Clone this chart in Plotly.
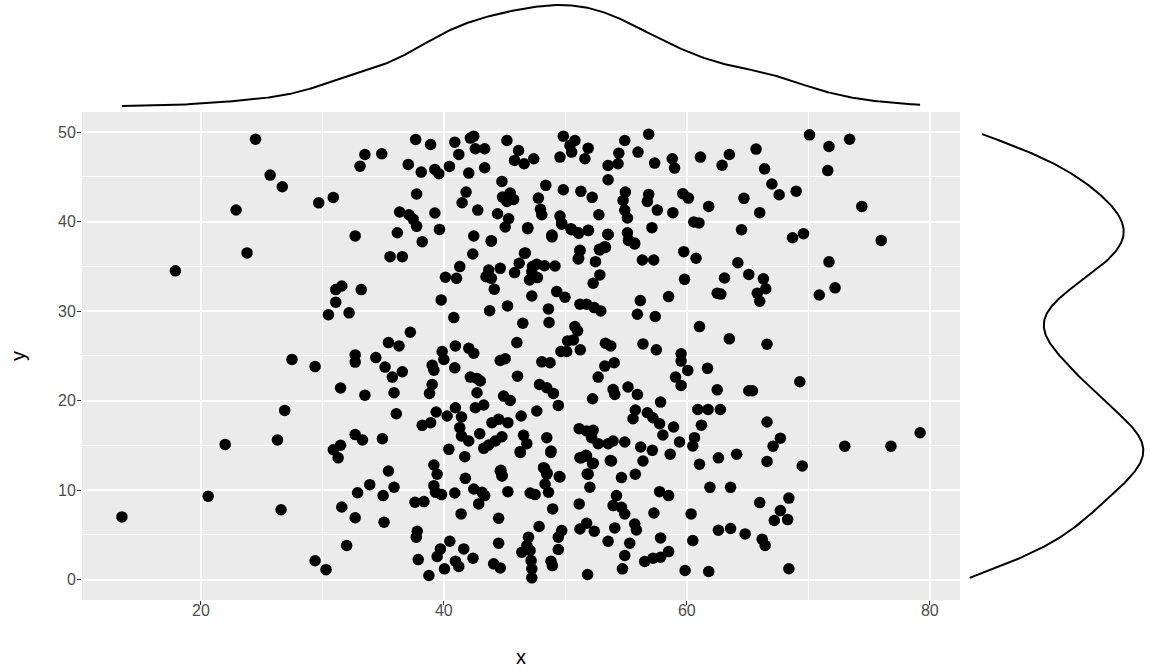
import numpy as np
import plotly.graph_objects as go

# ---- data, grouped by region of the panel ----
# left (x < 34.7)
xa = [13.5,17.9,20.6,22.0,22.9,23.8,24.5,25.7,26.7,26.3,26.6,26.9,27.5,29.4,29.7,29.4,30.3,30.5,30.9,30.9,
      31.1,31.3,31.1,31.6,31.5,31.5,31.6,32.0,32.2,32.7,32.7,32.7,32.7,32.7,32.9,33.1,33.2,33.5,33.3,33.5,33.9,34.4]
ya = [7.0,34.5,9.3,15.1,41.3,36.5,49.2,45.2,43.9,15.6,7.8,18.9,24.6,23.8,42.1,2.1,1.1,29.6,42.7,14.5,
      32.4,13.6,31.0,32.8,21.4,15.0,8.1,3.8,29.8,38.4,25.1,24.3,16.2,6.9,9.7,46.2,32.4,47.5,15.6,20.6,10.6,24.8]
# centre, y > 38.4
xb = [37.68,38.91,40.90,41.23,42.18,42.46,42.59,43.36,45.19,46.15,45.82,46.61,47.40,49.83,50.79,50.38,50.52,49.56,51.88,51.61,
      54.89,56.86,54.40,54.34,53.52,55.98,57.35,58.80,58.99,61.12,34.89,37.07,38.14,39.26,39.59,40.46,42.05,43.36,
      44.78,53.52,48.39,49.83,51.28,52.21,37.76,41.83,41.50,44.83,45.46,45.74,45.19,47.78,47.95,48.06,
      54.94,54.75,56.86,56.75,57.57,59.67,60.13,36.36,37.13,37.48,37.76,39.26,42.79,44.42,45.33,45.05,46.91,49.56,49.70,
      52.76,54.89,55.11,58.85,60.57,36.17,39.64,42.46,48.88,50.46,51.06,51.88,53.52,55.11,57.13]
yb = [49.18,48.62,48.88,47.51,49.33,49.55,48.14,48.14,49.07,47.95,46.84,46.46,47.02,49.55,49.07,48.51,47.77,47.21,48.21,47.02,
      49.07,49.77,47.65,46.46,46.28,47.77,46.54,47.02,45.98,47.21,47.58,46.39,45.53,45.83,45.35,46.17,45.42,46.02,
      44.49,44.68,44.05,43.56,43.38,42.71,43.08,43.30,42.11,42.74,43.19,42.48,42.26,42.63,41.37,40.77,
      43.30,42.37,43.04,42.26,41.29,43.12,42.63,41.07,40.77,40.25,39.47,40.96,41.29,40.88,40.33,39.40,39.32,40.62,39.84,
      40.77,41.26,40.40,41.00,39.95,38.76,39.13,38.39,38.39,39.21,38.76,39.02,38.54,38.76,39.32]
# centre, 25 < y < 38.4
xc = [38.22,43.91,55.22,55.71,35.57,36.58,42.38,41.31,40.13,41.04,43.69,43.47,43.91,44.64,44.15,46.64,46.20,45.82,47.29,47.65,
      48.28,49.15,47.24,47.05,47.70,51.20,51.06,52.84,53.25,52.48,52.84,52.29,56.34,57.27,59.75,60.76,59.81,39.78,47.24,49.29,
      49.97,51.20,51.75,52.38,52.92,56.17,58.50,55.93,57.40,40.82,43.77,45.24,48.61,48.66,46.50,50.79,51.01,50.19,50.66,37.24,
      35.44,36.31,40.95,42.05,42.46,46.01,49.64,50.11,51.23,53.30,53.74,56.39,57.49,59.53,61.04,39.86]
yc = [37.76,37.87,37.94,37.50,36.08,36.08,36.38,34.97,33.78,33.66,34.59,33.85,33.66,34.78,32.44,36.45,35.34,34.30,34.97,35.23,
      35.08,35.04,34.41,33.48,33.74,36.75,35.82,36.83,37.20,35.52,34.04,33.11,35.71,35.71,36.64,35.90,33.55,31.25,31.69,32.18,
      31.54,30.76,30.76,30.39,30.02,31.17,31.62,29.65,29.39,29.27,30.05,30.58,30.24,28.72,28.64,28.27,27.79,26.67,26.78,27.64,
      26.48,26.11,26.11,25.85,25.29,26.48,25.48,25.48,25.67,26.41,26.11,26.33,25.67,25.22,28.27,25.48]
# centre, 11 < y < 25
xd = [35.16,35.76,36.58,39.04,39.18,40.00,40.90,44.64,45.05,48.06,48.74,52.70,53.25,54.02,59.53,60.08,59.07,59.53,35.90,39.04,
      38.82,42.18,42.73,43.00,46.06,42.73,47.87,48.47,49.02,49.42,44.92,45.46,42.59,43.28,40.95,41.45,40.27,39.37,38.91,38.22,
      36.09,47.65,46.36,44.51,43.96,45.27,41.31,41.45,42.05,42.95,44.78,44.23,43.69,43.28,46.56,46.83,46.28,48.47,48.82,34.94,
      52.24,53.93,54.07,55.16,55.93,57.84,55.76,55.57,56.75,57.21,57.76,58.91,58.03,60.90,51.14,51.75,52.29,52.16,52.70,53.52,
      53.93,54.89,56.20,57.16,59.40,60.49,60.63,53.80,56.39,58.63,51.20,51.75,52.24,40.41,41.72,39.18,39.45,35.44,44.64,44.78,
      48.20,48.47,49.56,41.77,51.88,54.62,55.76,61.04]
yd = [23.74,22.62,23.22,23.96,23.40,24.59,23.66,24.48,24.67,24.33,24.22,22.62,23.85,24.22,24.41,23.37,22.62,21.69,20.87,21.80,
      20.80,22.62,22.47,22.18,22.73,20.87,21.80,21.43,20.80,19.46,20.50,20.02,19.20,19.50,19.20,18.16,18.27,18.72,17.53,17.23,
      18.53,18.83,18.27,17.90,17.53,17.53,16.97,16.04,15.48,16.30,15.96,15.48,15.03,14.66,16.11,15.18,14.29,15.85,14.36,15.74,
      20.20,21.25,20.69,21.51,20.69,19.83,18.94,17.97,18.64,18.08,17.41,17.04,16.15,19.01,16.86,16.60,16.67,15.85,15.18,15.18,
      15.48,15.37,14.81,14.44,15.37,14.92,15.85,13.25,13.25,14.01,13.62,13.81,12.95,14.55,13.73,12.80,11.76,12.13,12.13,11.57,
      12.50,11.76,11.46,11.31,11.76,11.39,11.76,12.88]
# centre, y < 11
xe = [35.90,35.00,39.18,39.31,39.81,40.90,42.46,43.14,43.36,42.87,45.27,47.10,47.51,48.33,48.61,37.62,38.36,51.14,52.02,54.21,
      53.93,54.62,54.89,57.76,58.50,57.29,60.35,35.08,41.42,44.51,48.96,47.84,37.81,37.73,40.49,39.72,39.45,41.64,40.95,41.23,
      42.40,40.05,38.77,37.89,44.51,46.97,46.83,46.42,47.10,47.18,47.24,47.24,44.10,44.64,49.70,49.42,49.42,48.82,48.93,51.20,
      51.75,52.38,53.52,54.07,55.71,55.85,55.30,54.89,54.70,57.84,56.53,57.21,57.84,58.50,59.86,60.49,51.83]
ye = [10.31,9.38,10.49,9.75,9.49,9.67,10.12,9.75,9.38,8.45,9.82,9.67,9.49,10.68,9.75,8.63,8.71,8.45,10.31,9.38,
      8.26,8.07,7.33,9.82,9.38,7.44,7.33,6.40,7.33,6.85,7.89,5.92,5.40,4.73,4.28,3.42,2.57,3.42,2.05,1.45,
      2.38,1.19,0.45,2.23,4.06,4.73,3.80,3.05,3.24,2.12,1.19,0.19,1.75,1.30,5.47,4.73,3.35,2.05,1.56,5.65,
      6.29,5.40,4.28,5.77,6.21,5.54,4.06,2.68,1.19,4.65,2.01,2.38,2.49,3.12,1.01,4.35,0.56]
# right (x > 61)
xf = [61.7,61.8,61.8,61.9,61.75,62.76,62.5,62.5,62.8,62.6,62.6,62.9,63.1,63.5,63.6,63.5,64.1,63.6,64.2,64.5,
      64.8,65.1,64.7,65.1,65.4,66.0,65.7,66.0,66.2,66.45,66.4,66.3,66.5,65.8,66.0,66.6,66.6,66.6,67.0,67.7,
      67.1,67.2,67.7,68.3,68.4,68.4,67.6,69.0,68.7,69.6,69.3,69.5,70.1,70.9,71.6,71.7,71.7,72.2,73.0,73.4,
      74.4,76.0,76.8,79.2,61.2,61.0]
yf = [23.6,41.7,0.9,10.3,19.0,19.0,21.2,32.0,31.9,13.6,5.5,46.3,33.7,47.5,10.3,26.9,14.0,5.7,35.4,39.1,
      5.1,34.1,42.6,21.1,21.1,41.0,48.1,8.6,4.5,3.8,45.9,33.6,32.5,32.0,31.1,13.2,17.6,26.3,44.2,15.8,
      14.9,6.6,7.7,6.7,9.1,1.2,43.0,43.4,38.2,38.65,22.1,12.7,49.7,31.8,45.7,48.4,35.5,32.6,14.9,49.2,
      41.7,37.9,14.9,16.4,17.25,39.85]
# points hidden under overlapping dots in the dense centre (estimated from the marginal densities)
xg = [48.3,48.5,49.5,51.8,51.3,51.7,52.3,53.7,48.8,46.3,44.7,44.8,
      48.9,50.5,51.1,51.9,53.5,49.7,46.9,46.7,51.2,52.8,53.3,51.1,
      55.2,55.7,43.9,48.9]
yg = [12.4,11.9,11.5,11.8,13.6,13.9,13.0,13.3,14.2,14.2,12.2,11.6,
      38.5,39.1,38.7,39.0,38.6,39.7,39.2,36.5,36.8,36.9,37.1,35.9,
      37.9,37.6,37.8,38.3]

x_ticks = [20, 40, 60, 80]
y_ticks = [0, 10, 20, 30, 40, 50]

x_vals = xa + xb + xc + xd + xe + xf + xg
y_vals = ya + yb + yc + yd + ye + yf + yg
x = np.array(x_vals)
y = np.array(y_vals)


def kde(v, n=512):
    sd = np.std(v, ddof=1)
    q75, q25 = np.percentile(v, [75, 25])
    bw = 0.9 * min(sd, (q75 - q25) / 1.34) * len(v) ** (-0.2)
    g = np.linspace(v.min(), v.max(), n)
    d = np.exp(-0.5 * ((g[:, None] - v[None, :]) / bw) ** 2).sum(axis=1) / (len(v) * bw * np.sqrt(2 * np.pi))
    return g, d


def expand(lo, hi, f=0.05):
    r = hi - lo
    return [lo - f * r, hi + f * r]


gx, dx = kde(x)
gy, dy = kde(y)

W, H = 1152, 672
L, R = 82, 960
T, B = 112, 600

fig = go.Figure()
fig.add_trace(go.Scatter(x=x_vals, y=y_vals, mode="markers",
                         marker=dict(color="black", size=11.5, line=dict(width=0)),
                         xaxis="x", yaxis="y", showlegend=False, hoverinfo="skip"))
fig.add_trace(go.Scatter(x=gx, y=dx, mode="lines", line=dict(color="black", width=2),
                         xaxis="x2", yaxis="y2", showlegend=False, hoverinfo="skip"))
fig.add_trace(go.Scatter(x=dy, y=gy, mode="lines", line=dict(color="black", width=2),
                         xaxis="x3", yaxis="y3", showlegend=False, hoverinfo="skip"))

xr = expand(x.min(), x.max())
yr = expand(y.min(), y.max())
tick_font = dict(family="Liberation Sans, Arial, sans-serif", size=16, color="#4D4D4D")
title_font = dict(family="Liberation Sans, Arial, sans-serif", size=20, color="black")

fig.update_layout(
    width=W, height=H, autosize=False,
    margin=dict(l=0, r=0, t=0, b=0, pad=0),
    paper_bgcolor="white", plot_bgcolor="white",
    xaxis=dict(domain=[L / W, R / W], range=xr, tickvals=x_ticks, ticktext=[str(v) for v in x_ticks],
               automargin=False, showgrid=True, gridcolor="white", gridwidth=2.2,
               minor=dict(dtick=10, tick0=0, showgrid=True, gridcolor="white", gridwidth=1.1, ticklen=0),
               ticks="outside", ticklen=4, tickwidth=1.1, tickcolor="#333333", ticklabelstandoff=-8,
               tickfont=tick_font, zeroline=False, showline=False, anchor="y"),
    yaxis=dict(domain=[(H - B) / H, (H - T) / H], range=yr, tickvals=y_ticks, ticktext=[str(v) for v in y_ticks],
               automargin=False, showgrid=True, gridcolor="white", gridwidth=2.2,
               minor=dict(dtick=5, tick0=0, showgrid=True, gridcolor="white", gridwidth=1.1, ticklen=0),
               ticks="outside", ticklen=4, tickwidth=1.1, tickcolor="#333333", ticklabelstandoff=-2,
               tickfont=tick_font, zeroline=False, showline=False, anchor="x"),
    xaxis2=dict(domain=[L / W, R / W], range=xr, visible=False, anchor="y2", automargin=False),
    yaxis2=dict(domain=[(H - 111) / H, 1.0], range=expand(dx.min(), dx.max()), visible=False,
                anchor="x2", automargin=False),
    xaxis3=dict(domain=[961 / W, 1.0], range=expand(dy.min(), dy.max()), visible=False,
                anchor="y3", automargin=False),
    yaxis3=dict(domain=[(H - B) / H, (H - T) / H], range=yr, visible=False, anchor="x3", automargin=False),
    shapes=[dict(type="rect", xref="paper", yref="paper",
                 x0=L / W, x1=R / W, y0=(H - B) / H, y1=(H - T) / H,
                 fillcolor="#EBEBEB", line=dict(width=0), layer="below")],
    annotations=[
        dict(text="x", xref="paper", yref="paper", x=(L + R) / 2 / W, y=(H - 657) / H,
             xanchor="center", yanchor="middle", showarrow=False, font=title_font),
        dict(text="y", xref="paper", yref="paper", x=18 / W, y=(H - (T + B) / 2) / H,
             xanchor="center", yanchor="middle", showarrow=False, font=title_font, textangle=-90),
    ],
)

fig.write_html("out.html", config={"displayModeBar": False})

# remove the browser's default body margin so the figure sits at the page origin
with open("out.html", encoding="utf-8") as f:
    html = f.read()
html = html.replace("<body>", '<body style="margin:0;padding:0;overflow:hidden">', 1)
with open("out.html", "w", encoding="utf-8") as f:
    f.write(html)
